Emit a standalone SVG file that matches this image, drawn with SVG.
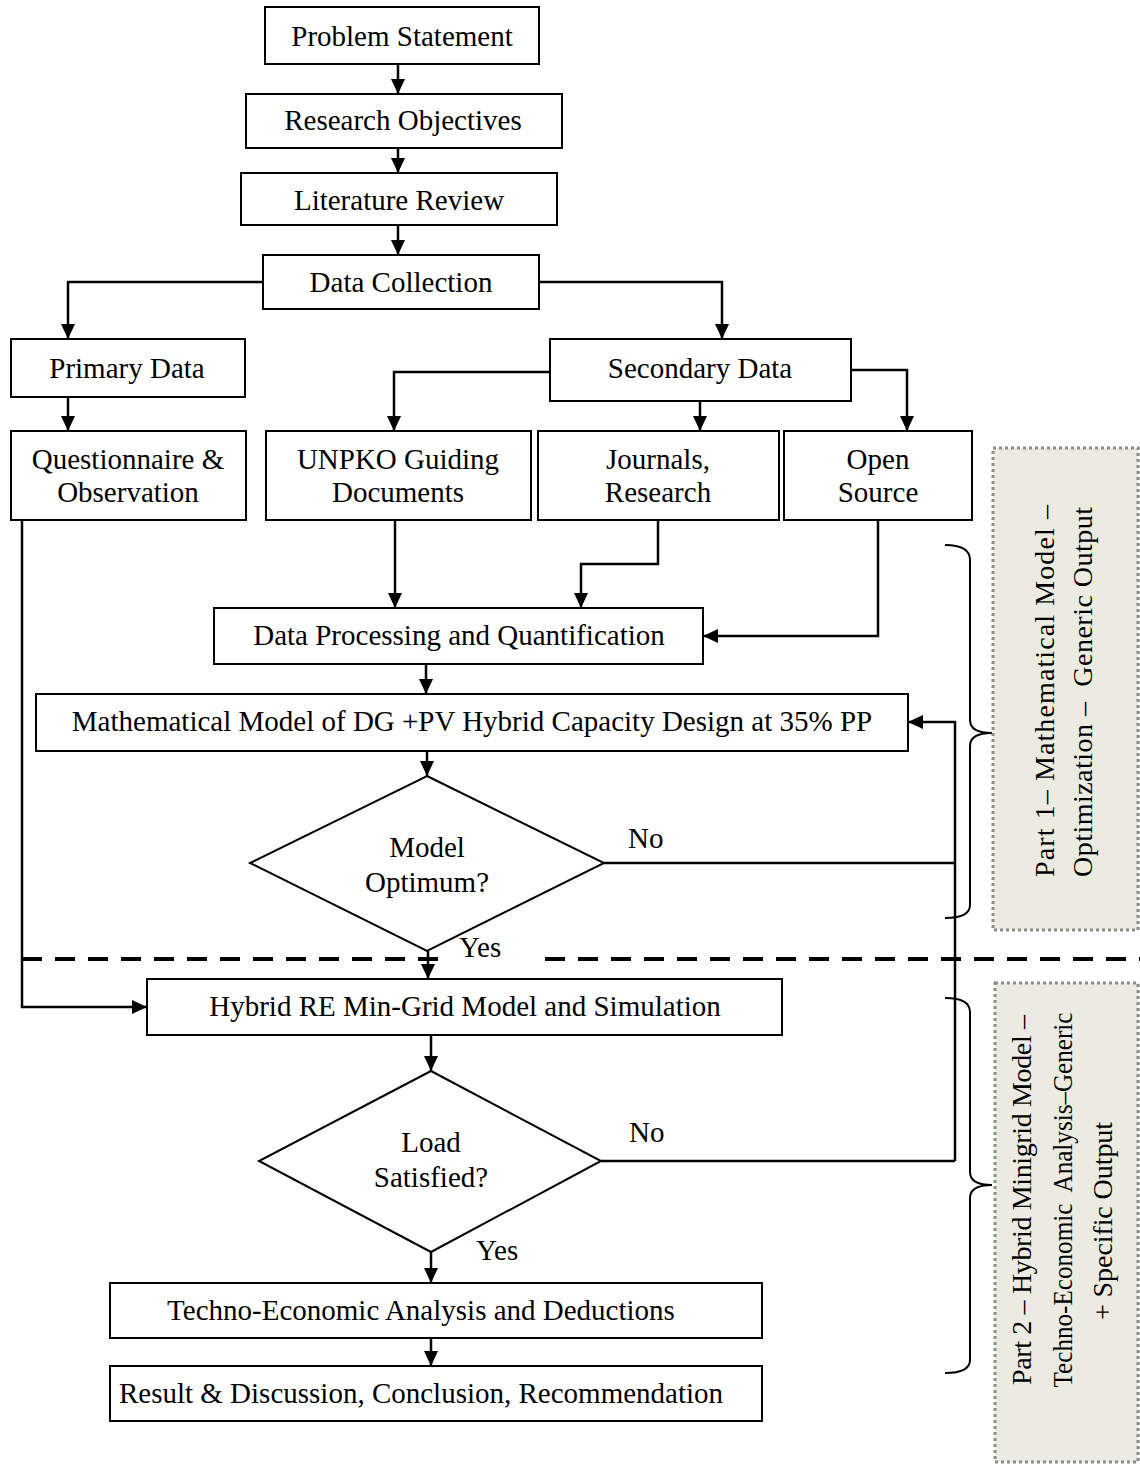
<svg xmlns="http://www.w3.org/2000/svg" width="1140" height="1466" viewBox="0 0 1140 1466">
<style>
  .box { fill: #ffffff; stroke: #000000; stroke-width: 2; }
  .t { font-family: "Liberation Serif", "Times New Roman", serif; font-size: 29px; fill: #000000; text-anchor: middle; }
  .pt { font-family: "Liberation Serif", "Times New Roman", serif; font-size: 28px; fill: #000000; text-anchor: middle; }
  .lbl { font-family: "Liberation Serif", "Times New Roman", serif; font-size: 29px; fill: #000000; }
  .c { fill: none; stroke: #000000; stroke-width: 2.5; }
  .arr { marker-end: url(#ah); }
  .part { fill: #ECEBE2; stroke: #8C8C8C; stroke-width: 3; stroke-dasharray: 3 3; }
  .brace { fill: none; stroke: #000000; stroke-width: 2; }
  .dash { fill: none; stroke: #000000; stroke-width: 4; stroke-dasharray: 20 13; }
</style>
<defs>
  <marker id="ah" markerUnits="userSpaceOnUse" markerWidth="16" markerHeight="14" refX="15" refY="7" orient="auto">
    <path d="M0,0 L15,7 L0,14 Z" fill="#000000"/>
  </marker>
</defs>
<rect width="1140" height="1466" fill="#ffffff"/>

<!-- separator -->
<path class="dash" d="M22,959 H440 M545,959 H1140"/>

<g id="connectors">
  <path class="c arr" d="M398,64 V94"/>
  <path class="c arr" d="M398,148 V173"/>
  <path class="c arr" d="M398,225 V255"/>
  <path class="c arr" d="M263,282 H68 V339"/>
  <path class="c arr" d="M539,282 H722 V339"/>
  <path class="c arr" d="M68,397 V431"/>
  <path class="c arr" d="M550,372 H394 V431"/>
  <path class="c arr" d="M700,401 V431"/>
  <path class="c arr" d="M851,370 H907 V431"/>
  <path class="c arr" d="M395,520 V608"/>
  <path class="c arr" d="M658,520 V564 H581 V608"/>
  <path class="c arr" d="M878,520 V636 H703"/>
  <path class="c arr" d="M426,664 V694"/>
  <path class="c arr" d="M427,751 V776"/>
  <path class="c" d="M604,863 H955"/>
  <path class="c arr" d="M955,1161 V722 H908"/>
  <path class="c" d="M601,1161 H955"/>
  <path class="c arr" d="M428,951 V979"/>
  <path class="c arr" d="M22,520 V1007 H147"/>
  <path class="c arr" d="M431,1035 V1071"/>
  <path class="c arr" d="M431,1252 V1283"/>
  <path class="c arr" d="M431,1338 V1366"/>
</g>

<g id="problem-statement">
  <rect class="box" x="265" y="7" width="274" height="57"/>
  <text class="t" x="402" y="46">Problem Statement</text>
</g>
<g id="research-objectives">
  <rect class="box" x="246" y="94" width="316" height="54"/>
  <text class="t" x="403" y="130">Research Objectives</text>
</g>
<g id="literature-review">
  <rect class="box" x="241" y="173" width="316" height="52"/>
  <text class="t" x="399" y="210">Literature Review</text>
</g>
<g id="data-collection">
  <rect class="box" x="263" y="255" width="276" height="54"/>
  <text class="t" x="401" y="292">Data Collection</text>
</g>
<g id="primary-data">
  <rect class="box" x="11" y="339" width="234" height="58"/>
  <text class="t" x="127" y="378">Primary Data</text>
</g>
<g id="secondary-data">
  <rect class="box" x="550" y="339" width="301" height="62"/>
  <text class="t" x="700" y="378">Secondary Data</text>
</g>
<g id="questionnaire">
  <rect class="box" x="11" y="431" width="235" height="89"/>
  <text class="t" x="128" y="469">Questionnaire &amp;</text>
  <text class="t" x="128" y="502">Observation</text>
</g>
<g id="unpko">
  <rect class="box" x="266" y="431" width="265" height="89"/>
  <text class="t" x="398" y="469">UNPKO Guiding</text>
  <text class="t" x="398" y="502">Documents</text>
</g>
<g id="journals">
  <rect class="box" x="538" y="431" width="241" height="89"/>
  <text class="t" x="658" y="469">Journals,</text>
  <text class="t" x="658" y="502">Research</text>
</g>
<g id="open-source">
  <rect class="box" x="784" y="431" width="188" height="89"/>
  <text class="t" x="878" y="469">Open</text>
  <text class="t" x="878" y="502">Source</text>
</g>
<g id="data-processing">
  <rect class="box" x="214" y="608" width="489" height="56"/>
  <text class="t" x="459" y="645">Data Processing and Quantification</text>
</g>
<g id="math-model">
  <rect class="box" x="36" y="694" width="872" height="57"/>
  <text class="t" x="472" y="731">Mathematical Model of DG +PV Hybrid Capacity Design at 35% PP</text>
</g>
<g id="model-optimum">
  <polygon class="box" points="427,776 604,863 427,951 250,863"/>
  <text class="t" x="427" y="857">Model</text>
  <text class="t" x="427" y="892">Optimum?</text>
</g>
<g id="hybrid-re">
  <rect class="box" x="147" y="979" width="635" height="56"/>
  <text class="t" x="465" y="1016">Hybrid RE Min-Grid Model and Simulation</text>
</g>
<g id="load-satisfied">
  <polygon class="box" points="431,1071 601,1161 431,1252 259,1161"/>
  <text class="t" x="431" y="1152">Load</text>
  <text class="t" x="431" y="1187">Satisfied?</text>
</g>
<g id="techno-economic">
  <rect class="box" x="110" y="1283" width="652" height="55"/>
  <text class="t" x="421" y="1320">Techno-Economic Analysis and Deductions</text>
</g>
<g id="result">
  <rect class="box" x="110" y="1366" width="652" height="55"/>
  <text class="t" x="421" y="1403">Result &amp; Discussion, Conclusion, Recommendation</text>
</g>

<g id="labels">
  <text class="lbl" x="628" y="848">No</text>
  <text class="lbl" x="459" y="957">Yes</text>
  <text class="lbl" x="629" y="1142">No</text>
  <text class="lbl" x="476" y="1260">Yes</text>
</g>

<g id="braces">
  <path class="brace" d="M945,545 Q970,545 970,560 V720 Q970,733 992,733 Q970,733 970,746 V905 Q970,918 945,918"/>
  <path class="brace" d="M945,998 Q970,998 970,1012 V1172 Q970,1185 992,1185 Q970,1185 970,1198 V1360 Q970,1373 945,1373"/>
</g>

<g id="part1">
  <rect class="part" x="993" y="448" width="145" height="482"/>
  <text class="pt" transform="translate(1054,691) rotate(-90)" textLength="372" lengthAdjust="spacing">Part 1– Mathematical Model –</text>
  <text class="pt" xml:space="preserve" transform="translate(1092,692) rotate(-90)" textLength="370" lengthAdjust="spacing">Optimization –  Generic Output</text>
</g>
<g id="part2">
  <rect class="part" x="995" y="983" width="143" height="479"/>
  <text class="pt" transform="translate(1031,1200) rotate(-90)" textLength="370" lengthAdjust="spacing">Part 2 – Hybrid Minigrid Model –</text>
  <text class="pt" xml:space="preserve" transform="translate(1072,1200) rotate(-90)" textLength="375" lengthAdjust="spacingAndGlyphs">Techno-Economic  Analysis–Generic</text>
  <text class="pt" transform="translate(1112,1221) rotate(-90)" textLength="198" lengthAdjust="spacing">+ Specific Output</text>
</g>
</svg>
